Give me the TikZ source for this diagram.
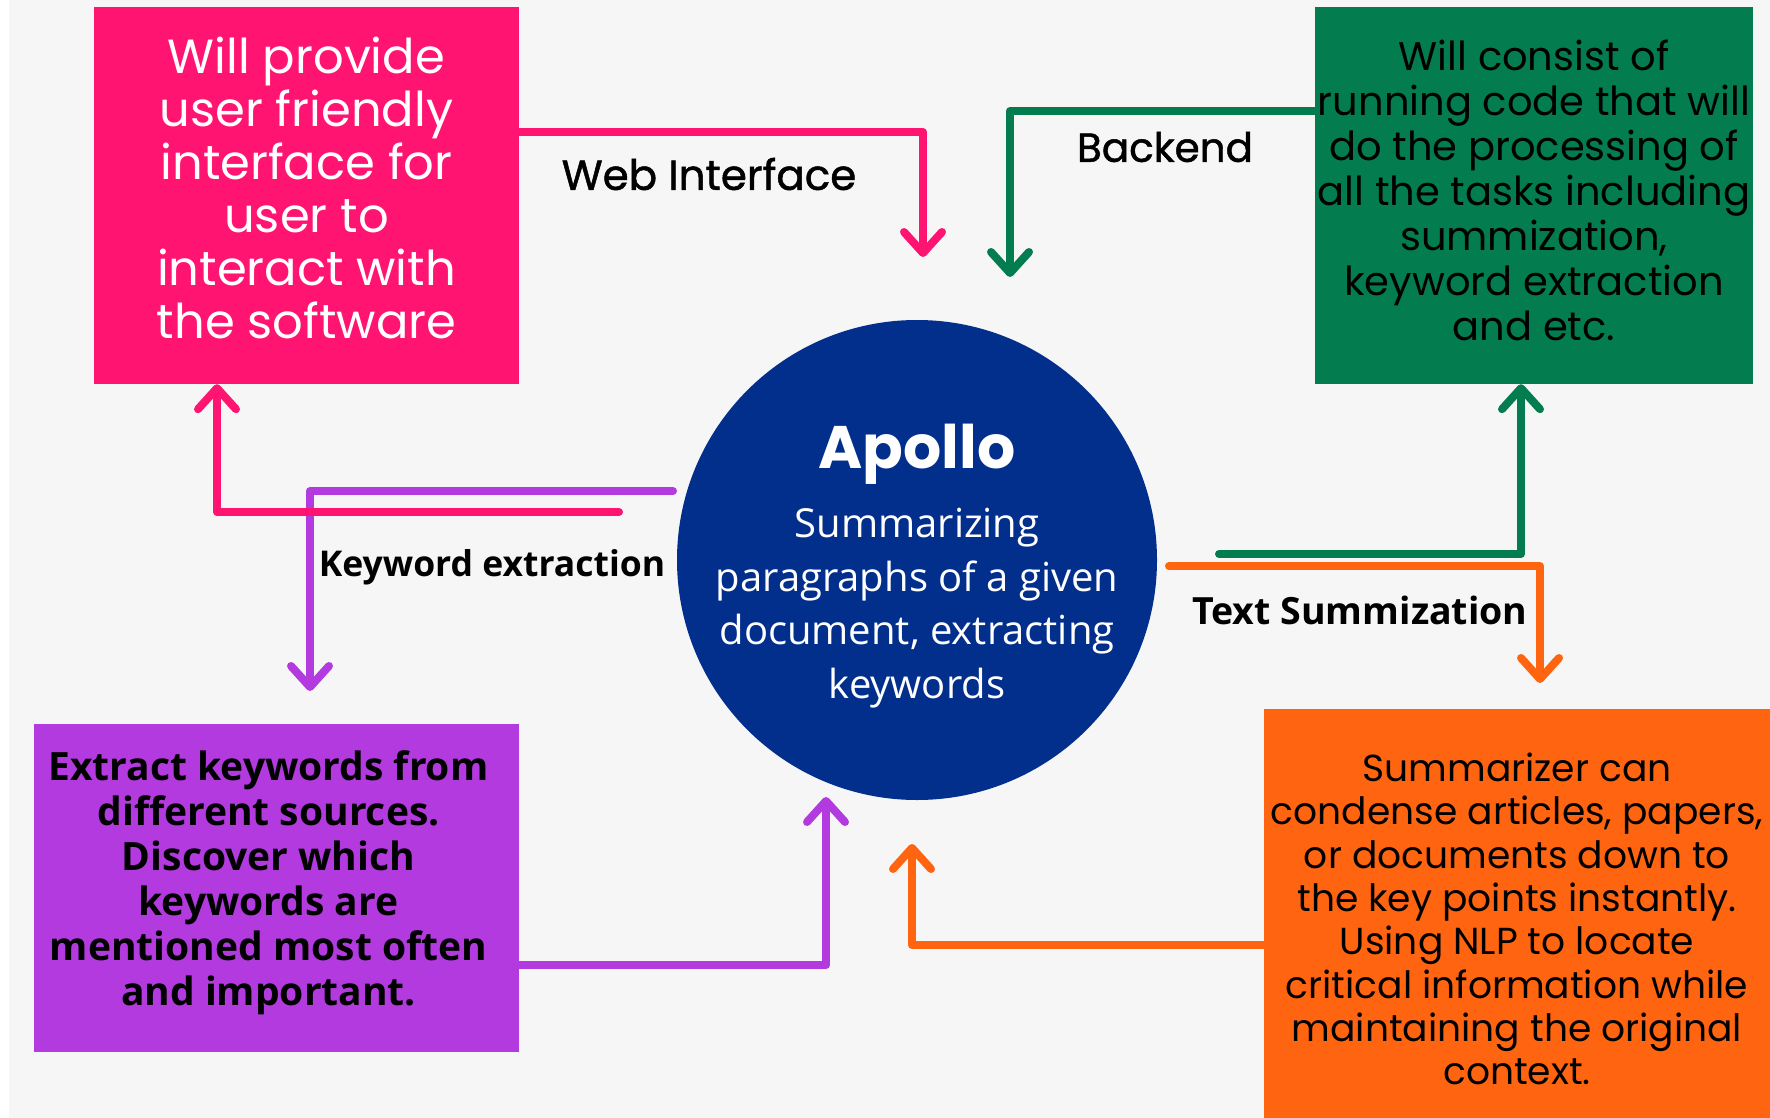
\documentclass[tikz,border=0pt]{standalone}
\usepackage{fontspec}
\setmainfont{Open Sans}
\newfontfamily\geo{Poppins}
\newfontfamily\geosb{Poppins}[FakeBold=1.2]
\usetikzlibrary{arrows.meta}

\definecolor{canvas}{HTML}{F6F6F6}
\definecolor{webpink}{HTML}{FF1471}
\definecolor{backgreen}{HTML}{037C50}
\definecolor{kwpurple}{HTML}{B23ADF}
\definecolor{sumorange}{HTML}{FF6510}
\definecolor{apollonavy}{HTML}{032F8C}

\tikzset{
  box/.style={rectangle, inner sep=0pt, align=center},
  flow/.style={line width=8pt, line cap=round, line join=round,
    -{Straight Barb[length=21pt,width=38pt,round]}},
  lbl/.style={inner sep=0pt, text=black},
}

\begin{document}
\begin{tikzpicture}[x=1pt,y=-1pt]
\useasboundingbox (0,0) rectangle (1770,1118);
\fill[white] (0,0) rectangle (1770,1118);
\fill[canvas] (9,0) rectangle (1770,1118);

% four description boxes
\node[box, fill=webpink, minimum width=425pt, minimum height=377pt] (pink) at (306.5,195.5) {};
\node[box, text=white, font={\geo\fontsize{48}{53}\selectfont}] (pinkText) at (306.5,188)
  {Will provide\\user friendly\\interface for\\user to\\interact with\\the software};

\node[box, fill=backgreen, minimum width=438pt, minimum height=377pt] (green) at (1534,195.5) {};
\node[box, text=black, font={\geo\fontsize{40}{45}\selectfont}] (greenText) at (1534,190)
  {Will consist of\\running code that will\\do the processing of\\all the tasks including\\summization,\\keyword extraction\\and etc.};

\node[box, fill=kwpurple, minimum width=485pt, minimum height=328pt] (purple) at (276.5,888) {};
\node[box, text=black, font={\bfseries\fontsize{39}{45}\selectfont}] (purpleText) at (268.5,883)
  {Extract keywords from\\different sources.\\Discover which\\keywords are\\mentioned most often\\and important.};

\node[box, fill=sumorange, minimum width=506pt, minimum height=409pt] (orange) at (1517,913.5) {};
\node[box, text=black, font={\geo\fontsize{37.6}{43.3}\selectfont}] (orangeText) at (1517,919)
  {Summarizer can\\condense articles, papers,\\or documents down to\\the key points instantly.\\Using NLP to locate\\critical information while\\maintaining the original\\context.};

% central circle
\node[circle, fill=apollonavy, minimum size=480pt, inner sep=0pt] (apollo) at (917,560) {};
\node[lbl, text=white, font={\geo\bfseries\fontsize{60}{64}\selectfont}] (title) at (917,454) {Apollo};
\node[lbl, text=white, align=center, font={\fontsize{40}{53.6}\selectfont}] (sub) at (917,608)
  {Summarizing\\paragraphs of a given\\document, extracting\\keywords};

% bends and free ends of the connectors
\coordinate (wiBend) at (923,132);
\coordinate (wiTip)  at (923,257);
\coordinate (beBend) at (1010,111);
\coordinate (beTip)  at (1010,277);
\coordinate (pkStart) at (619,512);
\coordinate (pkBend)  at (217,512);
\coordinate (kwStart) at (673,491);
\coordinate (kwBend)  at (310,491);
\coordinate (kwTip)   at (310,691);
\coordinate (gnStart) at (1219,554);
\coordinate (gnBend)  at (1521,554);
\coordinate (tsStart) at (1169,566);
\coordinate (tsBend)  at (1540,566);
\coordinate (tsTip)   at (1540,683);
\coordinate (ppBend)  at (826,965);
\coordinate (ppTip)   at (826,797);
\coordinate (orBend)  at (912,945);
\coordinate (orTip)   at (912,844);

% connectors
\draw[flow, webpink] (pink.east |- wiBend) -- (wiBend) -- (wiTip);
\draw[flow, backgreen] (green.west |- beBend) -- (beBend) -- (beTip);
\draw[flow, kwpurple] (kwStart) -- (kwBend) -- (kwTip);
\draw[flow, webpink] (pkStart) -- (pkBend) -- (pkBend |- pink.south);
\draw[flow, backgreen] (gnStart) -- (gnBend) -- (gnBend |- green.south);
\draw[flow, sumorange] (tsStart) -- (tsBend) -- (tsTip);
\draw[flow, kwpurple] (purple.east |- ppBend) -- (ppBend) -- (ppTip);
\draw[flow, sumorange] (orange.west |- orBend) -- (orBend) -- (orTip);

% connector labels
\node[lbl, font={\geosb\fontsize{42}{46}\selectfont}] (wiLabel) at (709,174) {Web Interface};
\node[lbl, font={\geosb\fontsize{40.5}{44}\selectfont}] (beLabel) at (1165,147) {Backend};
\node[lbl, font={\bfseries\fontsize{35.5}{40}\selectfont}] (kwLabel) at (492,567) {Keyword extraction};
\node[lbl, font={\bfseries\fontsize{37.5}{42}\selectfont}] (tsLabel) at (1360,610) {Text Summization};
\end{tikzpicture}
\end{document}
